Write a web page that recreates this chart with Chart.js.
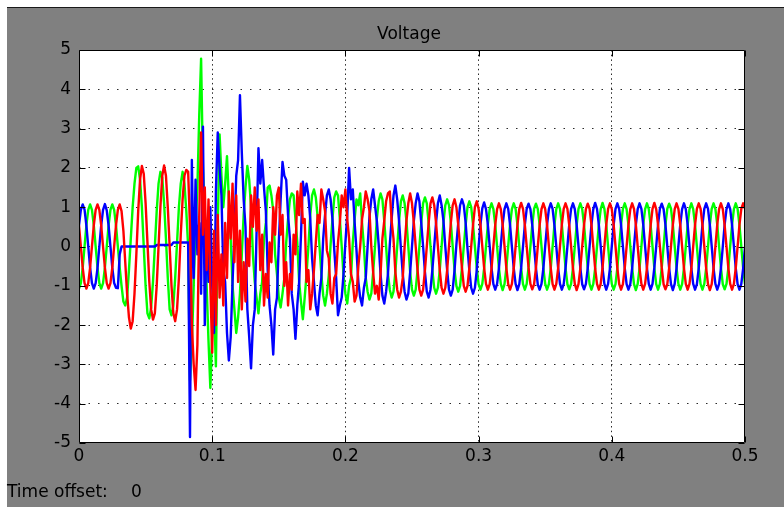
<!DOCTYPE html>
<html>
<head>
<meta charset="utf-8">
<script src="https://cdn.jsdelivr.net/npm/chart.js@4.4.1/dist/chart.umd.min.js"></script>
<style>
html,body{margin:0;padding:0;background:#fff;width:784px;height:507px;overflow:hidden;}
#fig{position:absolute;left:7px;top:7px;width:777px;height:500px;background:#808080;border-top:1px solid #1a1a1a;box-sizing:border-box;}
#c{position:absolute;left:0;top:0;}
.txt{position:absolute;font-family:"DejaVu Sans";font-size:17px;line-height:17px;color:#000;white-space:pre;}
</style>
</head>
<body>
<div id="fig"></div>
<canvas id="c" width="784" height="507"></canvas>
<div class="txt" style="left:309px;top:25px;width:200px;text-align:center">Voltage</div>
<div class="txt" style="left:7px;top:483px">Time offset:</div>
<div class="txt" style="left:131px;top:483px">0</div>
<script>
// Time between samples (s); sample i is at i * sampleStep, from 0 to 0.5 s
const sampleStep = 1 / 720;
const xTicks = [0, 0.1, 0.2, 0.3, 0.4, 0.5];
const yTicks = [-5, -4, -3, -2, -1, 0, 1, 2, 3, 4, 5];

const voltageBlue = [
 0.54, 0.93, 1.07, 0.94, 0.53, 0.00, -0.54, -0.93, -1.07, -0.93, -0.55, 0.00,
 0.54, 0.93, 1.08, 0.92, 0.53, 0.00, -0.54, -0.93, -1.05, -1.06, -0.20, 0.00,
 0, 0, 0, 0, 0, 0, 0, 0, 0, 0, 0, 0,
 0, 0, 0, 0, 0, 0, 0.04, 0.04, 0.04, 0.04, 0.04, 0.04,
 0.04, 0.04, 0.04, 0.1, 0.1, 0.1, 0.1, 0.1, 0.1, 0.1, 0.1, 0.1,
 -4.85, 2.2, -0.8, 1.7, -0.2, 0.6, -1.2, 3.05, -2.0, 0.5, -0.9, 1.0,
 -1.0, -2.2, 1.4, 2.9, 2.0, 1.3, -0.6, -0.9, -2.2, -2.9, -2.3, -0.9,
 0.3, 1.8, 2.2, 3.85, 2.4, 1.2, 0.5, -1.6, -2.3, -3.1, -2.0, -1.6,
 0.4, 2.5, 1.6, 2.2, 1.5, 0.9, -0.6, -1.5, -2.0, -2.75, -1.6, -1.3,
 0.1, 1.2, 2.15, 1.8, 1.7, 0.8, 0.2, -1.2, -1.6, -2.35, -1.5, -0.9,
 0.3, 1.65, 1.3, 1.6, 1.3, 0.7, -0.3, -0.9, -1.5, -1.75, -1.2, -0.8,
 0.2, 0.8, 1.3, 1.45, 1.2, 0.7, -0.1, -0.8, -1.75, -1.5, -1.3, -0.7,
 0.1, 0.8, 2.0, 1.2, 1.45, 0.6, -0.1, -0.9, -1.3, -1.5, -1.05, -0.8,
 0.0, 0.75, 1.2, 1.45, 1.05, 0.65, 0.05, -0.7, -1.25, -1.45, -1.15, -0.7,
 0.05, 0.7, 1.3, 1.55, 1.2, 0.65, -0.05, -0.7, -1.15, -1.35, -1.2, -0.65,
 0.0, 0.65, 1.1, 1.35, 1.15, 0.6, 0.0, -0.65, -1.15, -1.3, -1.1, -0.6,
 0.0, 0.6, 1.1, 1.3, 1.05, 0.65, 0.0, -0.6, -1.1, -1.25, -1.1, -0.6,
 0.05, 0.6, 1.05, 1.2, 1.05, 0.6, -0.05, -0.6, -1.05, -1.2, -1.05, -0.6,
 0.0, 0.55, 0.97, 1.12, 0.95, 0.56, 0.0, -0.55, -0.96, -1.1, -0.95, -0.55,
 0.02, 0.56, 0.95, 1.1, 0.96, 0.55, -0.01, -0.56, -0.95, -1.11, -0.96, -0.54,
 0.0, 0.55, 0.96, 1.09, 0.95, 0.55, 0.0, -0.55, -0.97, -1.1, -0.95, -0.56,
 0.01, 0.55, 0.95, 1.1, 0.96, 0.54, 0.0, -0.55, -0.95, -1.1, -0.96, -0.55,
 0.0, 0.56, 0.96, 1.1, 0.95, 0.55, 0.01, -0.55, -0.96, -1.09, -0.95, -0.55,
 0.0, 0.55, 0.95, 1.11, 0.96, 0.55, 0.0, -0.56, -0.95, -1.1, -0.95, -0.55,
 0.01, 0.55, 0.96, 1.1, 0.95, 0.55, 0.0, -0.55, -0.96, -1.1, -0.96, -0.55,
 0.0, 0.55, 0.95, 1.1, 0.96, 0.56, 0.0, -0.55, -0.95, -1.1, -0.95, -0.54,
 0.0, 0.56, 0.96, 1.09, 0.95, 0.55, 0.0, -0.55, -0.96, -1.11, -0.95, -0.55,
 0.01, 0.55, 0.95, 1.1, 0.95, 0.55, 0.0, -0.56, -0.95, -1.1, -0.96, -0.55,
 0.0, 0.55, 0.96, 1.1, 0.96, 0.55, 0.01, -0.55, -0.95, -1.1, -0.95, -0.55,
 0.0, 0.56, 0.95, 1.1, 0.95, 0.55, 0.0, -0.55, -0.96, -1.1, -0.95, -0.56,
 0.0
];

const voltageGreen = [
 -1.07, -0.93, -0.54, 0.00, 0.54, 0.93, 1.07, 0.93, 0.54, 0.00, -0.54, -0.93,
 -1.07, -0.93, -0.54, 0.00, 0.54, 0.93, 1.07, 0.93, 0.54, 0.00, -0.54, -1.00,
 -1.4, -1.5, -1.3, -0.6, 0.2, 1.0, 1.6, 2.0, 2.04, 1.7, 1.0, 0.0,
 -1.0, -1.7, -1.83, -1.55, -0.9, 0.0, 0.9, 1.6, 1.9, 1.75, 1.1, 0.2,
 -0.8, -1.6, -1.75, -1.5, -0.8, 0.1, 1.0, 1.6, 1.9, 1.6, 0.9, 0.0,
 -3.4, -2.5, -1.0, 0.5, 1.5, 3.35, 4.78, 2.0, 0.8, -1.0, -2.4, -3.6,
 -2.2, -1.5, -3.05, 0.5, 2.85, 1.8, 1.0, 1.6, 2.3, 1.2, 0.2, -1.0,
 -1.6, -2.2, -1.8, -1.2, -0.2, 0.8, 1.5, 2.05, 1.7, 1.0, -0.2, -0.9,
 -1.3, -1.7, -1.2, -0.9, 0.2, 0.6, 1.5, 1.55, 1.3, 0.9, -0.2, -0.7,
 -1.3, -1.55, -1.2, -0.8, 0.1, 0.7, 1.2, 1.35, 1.3, 0.7, 0.1, -0.9,
 -1.4, -1.85, -1.3, -0.7, 0.0, 0.8, 1.3, 1.45, 1.25, 0.75, 0.0, -0.7,
 -1.25, -1.5, -1.2, -0.75, 0.05, 0.7, 1.25, 1.4, 1.3, 0.7, 0.0, -0.75,
 -1.2, -1.45, -1.0, -0.8, 0.1, 0.7, 1.2, 1.05, 1.35, 0.6, 0.0, -0.8,
 -1.15, -1.35, -1.2, -0.65, 0.0, 0.7, 1.15, 1.35, 1.2, 0.65, 0.0, -0.7,
 -1.1, -1.3, -1.15, -0.65, 0.0, 0.65, 1.15, 1.3, 1.1, 0.65, 0.0, -0.65,
 -1.1, -1.25, -1.1, -0.6, 0.0, 0.6, 1.1, 1.25, 1.1, 0.6, 0.0, -0.6,
 -1.05, -1.2, -1.05, -0.6, 0.0, 0.6, 1.05, 1.2, 1.05, 0.6, 0.0, -0.6,
 -1.0, -1.15, -1.0, -0.55, 0.0, 0.55, 1.0, 1.15, 1.0, 0.55, 0.0, -0.55,
 -0.96, -1.1, -0.95, -0.55, 0.0, 0.55, 0.96, 1.1, 0.95, 0.55, 0.0, -0.55,
 -0.95, -1.11, -0.96, -0.55, 0.01, 0.56, 0.95, 1.1, 0.96, 0.55, 0.0, -0.56,
 -0.96, -1.1, -0.95, -0.54, 0.0, 0.55, 0.96, 1.09, 0.95, 0.55, 0.0, -0.55,
 -0.95, -1.1, -0.96, -0.55, 0.0, 0.55, 0.95, 1.1, 0.96, 0.56, 0.01, -0.55,
 -0.96, -1.09, -0.95, -0.55, 0.0, 0.54, 0.96, 1.1, 0.95, 0.55, 0.0, -0.55,
 -0.96, -1.1, -0.95, -0.56, 0.0, 0.55, 0.95, 1.11, 0.96, 0.55, 0.0, -0.54,
 -0.95, -1.1, -0.96, -0.55, 0.01, 0.55, 0.96, 1.1, 0.95, 0.55, 0.0, -0.55,
 -0.96, -1.11, -0.95, -0.55, 0.0, 0.56, 0.95, 1.1, 0.95, 0.54, 0.0, -0.55,
 -0.96, -1.1, -0.95, -0.54, 0.0, 0.55, 0.96, 1.09, 0.96, 0.55, 0.01, -0.55,
 -0.95, -1.1, -0.96, -0.55, 0.0, 0.55, 0.95, 1.1, 0.95, 0.55, 0.0, -0.56,
 -0.96, -1.1, -0.95, -0.55, 0.0, 0.55, 0.96, 1.1, 0.95, 0.56, 0.0, -0.55,
 -0.96, -1.09, -0.95, -0.55, 0.01, 0.55, 0.95, 1.1, 0.96, 0.55, 0.0, -0.55,
 -0.96
];

const voltageRed = [
 0.54, 0.00, -0.54, -0.93, -1.07, -0.93, -0.54, 0.00, 0.54, 0.93, 1.07, 0.93,
 0.54, 0.00, -0.54, -0.93, -1.07, -0.93, -0.54, 0.00, 0.54, 0.93, 1.07, 0.90,
 0.4, -0.4, -1.2, -1.8, -2.09, -1.9, -1.2, -0.2, 0.9, 1.7, 2.05, 1.85,
 1.1, 0.1, -0.9, -1.6, -1.86, -1.7, -1.0, 0.0, 1.0, 1.8, 2.06, 1.8,
 1.0, 0.0, -1.0, -1.7, -1.9, -1.6, -0.8, 0.3, 1.2, 1.8, 1.95, 1.9,
 0.5, -2.0, -3.0, -3.65, -2.5, 0.8, 2.9, 0.3, 1.5, -0.6, 1.2, -1.0,
 -2.7, 0.4, -2.0, 0.8, -1.3, -0.2, -1.5, 0.6, -0.8, 1.4, 0.2, 1.6,
 -0.4, 1.3, -0.9, 0.4, -1.6, -0.4, -1.4, 0.2, -0.5, 1.3, 0.5, 1.5,
 0.4, 1.2, -0.6, 0.3, -1.5, -0.7, -1.3, 0.1, -0.4, 1.0, 0.3, 1.3,
 1.5, 0.3, 0.8, -1.0, -0.4, -1.5, -0.7, -1.1, 0.3, -0.2, 1.4, 0.8,
 1.6, 0.6, 0.7, -0.9, -0.6, -1.6, -1.2, -0.6, 0.1, 0.8, 0.6, 1.45,
 1.2, 0.9, -0.1, -0.3, -1.2, -1.45, -0.8, -0.7, 0.1, 0.6, 1.3, 1.0,
 1.45, 0.7, 0.2, -0.7, -0.9, -1.4, -1.25, -0.5, 0.0, 0.7, 1.0, 1.4,
 1.2, 0.9, 0.0, -0.65, -1.2, -1.0, -1.35, -0.7, 0.2, 0.65, 1.15, 1.35,
 1.4, 0.65, 0.2, -0.65, -1.1, -1.3, -1.15, -0.8, 0.0, 0.65, 1.1, 1.35,
 1.1, 0.6, 0.0, -0.6, -1.1, -1.25, -1.1, -0.6, 0.0, 0.6, 1.1, 1.25,
 1.05, 0.6, 0.0, -0.6, -1.05, -1.2, -1.05, -0.6, 0.0, 0.6, 1.05, 1.2,
 1.0, 0.55, 0.0, -0.55, -1.0, -1.15, -1.0, -0.55, 0.0, 0.55, 1.0, 1.15,
 0.96, 0.55, 0.0, -0.55, -0.95, -1.1, -0.96, -0.55, 0.0, 0.55, 0.95, 1.1,
 0.95, 0.56, 0.01, -0.55, -0.96, -1.1, -0.95, -0.56, 0.0, 0.55, 0.96, 1.11,
 0.96, 0.55, 0.0, -0.54, -0.95, -1.09, -0.96, -0.55, 0.0, 0.55, 0.95, 1.1,
 0.95, 0.55, 0.0, -0.55, -0.96, -1.1, -0.95, -0.55, 0.01, 0.56, 0.96, 1.1,
 0.96, 0.54, 0.0, -0.55, -0.95, -1.11, -0.96, -0.55, 0.0, 0.55, 0.95, 1.09,
 0.96, 0.55, 0.0, -0.56, -0.95, -1.1, -0.95, -0.54, 0.0, 0.55, 0.96, 1.1,
 0.95, 0.55, 0.01, -0.55, -0.96, -1.1, -0.96, -0.55, 0.0, 0.55, 0.95, 1.1,
 0.96, 0.56, 0.0, -0.55, -0.95, -1.1, -0.95, -0.55, 0.0, 0.54, 0.96, 1.11,
 0.95, 0.55, 0.0, -0.54, -0.96, -1.09, -0.96, -0.55, 0.01, 0.55, 0.95, 1.1,
 0.96, 0.55, 0.0, -0.55, -0.95, -1.1, -0.95, -0.56, 0.0, 0.55, 0.96, 1.1,
 0.96, 0.55, 0.0, -0.55, -0.96, -1.11, -0.96, -0.55, 0.0, 0.56, 0.95, 1.1,
 0.95, 0.54, 0.0, -0.55, -0.95, -1.1, -0.95, -0.55, 0.0, 0.55, 0.96, 1.1,
 0.96
];

function toPoints(values) {
  return values.map((v, i) => ({ x: i * sampleStep, y: v }));
}

const framePlugin = {
  id: 'frame',
  beforeDraw(chart) {
    const { ctx, chartArea: a } = chart;
    ctx.save();
    ctx.fillStyle = '#ffffff';
    ctx.fillRect(a.left, a.top, a.right - a.left, a.bottom - a.top);
    ctx.restore();
  },
  afterDraw(chart) {
    const { ctx, chartArea: a, scales } = chart;
    ctx.save();
    ctx.strokeStyle = '#000';
    ctx.lineWidth = 1;
    const L = Math.round(a.left) + 0.5, R = Math.round(a.right) - 0.5;
    const T = Math.round(a.top) + 0.5, B = Math.round(a.bottom) - 0.5;
    ctx.beginPath();
    ctx.rect(L, T, R - L, B - T);
    const tl = 6;
    xTicks.forEach(v => {
      const px = Math.round(scales.x.getPixelForValue(v)) + 0.5;
      ctx.moveTo(px, B); ctx.lineTo(px, B - tl);
      ctx.moveTo(px, T); ctx.lineTo(px, T + tl);
    });
    yTicks.forEach(v => {
      const py = Math.round(scales.y.getPixelForValue(v)) + 0.5;
      ctx.moveTo(L, py); ctx.lineTo(L + tl, py);
      ctx.moveTo(R, py); ctx.lineTo(R - tl, py);
    });
    ctx.stroke();
    ctx.restore();
  }
};

const font = { family: 'DejaVu Sans', size: 17 };
const gridColor = (ends) => (c) => (c.tick && ends.includes(c.tick.value)) ? 'rgba(0,0,0,0)' : '#2a2a2a';

new Chart(document.getElementById('c'), {
  type: 'line',
  data: {
    datasets: [
      { label: 'Red', data: toPoints(voltageRed), borderColor: '#ff0000' },
      { label: 'Blue', data: toPoints(voltageBlue), borderColor: '#0000ff' },
      { label: 'Green', data: toPoints(voltageGreen), borderColor: '#00ff00' }
    ]
  },
  options: {
    responsive: false,
    devicePixelRatio: 1,
    animation: false,
    events: [],
    layout: { padding: { left: 0, right: 39, top: 50, bottom: 0 } },
    elements: {
      line: { borderWidth: 2.4, tension: 0, fill: false, borderJoinStyle: 'round' },
      point: { radius: 0 }
    },
    plugins: { legend: { display: false }, tooltip: { enabled: false }, title: { display: false } },
    scales: {
      x: {
        type: 'linear', min: 0, max: 0.5,
        afterBuildTicks: s => { s.ticks = xTicks.map(v => ({ value: v })); },
        afterFit: s => { s.height = 64; },
        ticks: { font, color: '#000', padding: 3, maxRotation: 0, autoSkip: false,
                 callback: v => String(v) },
        grid: { drawTicks: false, lineWidth: 1, color: gridColor([0, 0.5]) },
        border: { display: false, dash: [1.5, 3.2] }
      },
      y: {
        type: 'linear', min: -5, max: 5,
        afterBuildTicks: s => { s.ticks = yTicks.map(v => ({ value: v })); },
        afterFit: s => { s.width = 79; },
        ticks: { font, color: '#000', padding: 8, callback: v => String(v) },
        grid: { drawTicks: false, lineWidth: 1, color: gridColor([-5, 5]) },
        border: { display: false, dash: [1.5, 8] }
      }
    }
  },
  plugins: [framePlugin]
});
</script>
</body>
</html>
